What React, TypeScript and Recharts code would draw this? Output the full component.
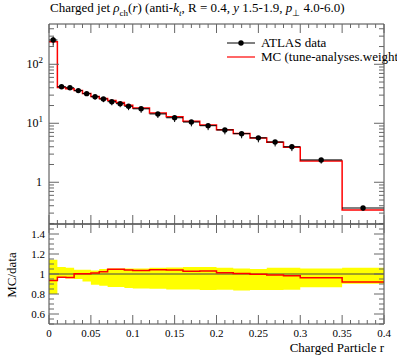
import React from 'react';
import { ComposedChart, Line, Scatter, ErrorBar, XAxis, YAxis, Area, ReferenceLine } from 'recharts';

// bin edges in r
const binEdges = [0, 0.01, 0.02, 0.03, 0.04, 0.05, 0.06, 0.07, 0.08, 0.09, 0.1, 0.12, 0.14, 0.16, 0.18, 0.2, 0.22, 0.24, 0.26, 0.28, 0.3, 0.35, 0.4];

// ATLAS data
const dataValues = [258, 41.7, 40, 35.8, 31.8, 28.2, 25.8, 23.2, 21.5, 19.4, 17.6, 14.4, 12.4, 10.5, 9.1, 7.7, 6.66, 5.66, 4.82, 4.0, 2.39, 0.366];
// relative uncertainties (up / down)
const dataErrUp = [0.143, 0.07, 0.063, 0.043, 0.043, 0.036, 0.05, 0.056, 0.056, 0.056, 0.056, 0.063, 0.065, 0.07, 0.07, 0.063, 0.056, 0.05, 0.063, 0.063, 0.056, 0.063];
const dataErrDown = [0.2, 0.04, 0.045, 0.05, 0.074, 0.107, 0.117, 0.13, 0.13, 0.14, 0.145, 0.147, 0.154, 0.156, 0.16, 0.157, 0.164, 0.16, 0.16, 0.157, 0.133, 0.097];

// MC prediction
const mcValues = [241, 40.3, 38.6, 35.9, 31.9, 28.5, 26.4, 24.3, 22.5, 20.2, 18.2, 15.0, 12.9, 10.8, 9.37, 7.8, 6.7, 5.64, 4.77, 3.93, 2.3, 0.337];

const xMajorLabels = ['0', '0.05', '0.1', '0.15', '0.2', '0.25', '0.3', '0.35', '0.4'];

const FRAME = '#444';
const TICK = '#666';
const RED = '#ff0000';
const FONT = '"Liberation Serif", serif';

const xTicks: number[] = [];
for (let i = 0; i <= 40; i++) xTicks.push(i / 100);

const logTicks: number[] = [];
[0.1, 1, 10, 100].forEach((d) => {
  for (let k = 1; k <= 9; k++) {
    const v = +(d * k).toPrecision(3);
    if (v >= 0.2 && v <= 480) logTicks.push(v);
  }
});

const ratioTicks: number[] = [];
for (let i = 10; i <= 30; i++) ratioTicks.push(i / 20);

const isMajorX = (v: number) => Math.abs(v * 20 - Math.round(v * 20)) < 1e-6;
const isMajorLog = (v: number) => Math.abs(Math.log10(v) - Math.round(Math.log10(v))) < 1e-6;
const isMajorRatio = (v: number) => Math.abs(v * 5 - Math.round(v * 5)) < 1e-6 && v > 0.55 && v < 1.45;

const n = dataValues.length;

const dataPoints = dataValues.map((v, i) => ({
  x: (binEdges[i] + binEdges[i + 1]) / 2,
  y: v,
  yErr: [v * dataErrDown[i], v * dataErrUp[i]],
  xErr: (binEdges[i + 1] - binEdges[i]) / 2,
}));

const mcSteps = binEdges.map((e, i) => ({ x: e, mc: mcValues[Math.min(i, n - 1)] }));

const ratioSteps = binEdges.map((e, i) => {
  const j = Math.min(i, n - 1);
  return {
    x: e,
    ratio: mcValues[j] / dataValues[j],
    band: [1 - dataErrDown[j], 1 + dataErrUp[j]],
  };
});

const xTick = (side: 'top' | 'bottom', labels: boolean) => (props: any) => {
  const { x, y, payload } = props;
  const v = payload.value;
  const major = isMajorX(v);
  const len = major ? 9 : 4;
  const dir = side === 'top' ? 1 : -1;
  const idx = Math.round(v * 20);
  return (
    <g>
      <line x1={x} x2={x} y1={y} y2={y + dir * len} stroke={TICK} strokeWidth={1} />
      {labels && major && (
        <text x={x} y={y + 13} textAnchor="middle" fontSize={11} fontFamily={FONT} fill="#000">
          {xMajorLabels[idx]}
        </text>
      )}
    </g>
  );
};

const yTick = (side: 'left' | 'right', kind: 'log' | 'ratio') => (props: any) => {
  const { x, y, payload } = props;
  const v = payload.value;
  const major = kind === 'log' ? isMajorLog(v) : isMajorRatio(v);
  const len = major ? 10 : 5;
  const dir = side === 'left' ? 1 : -1;
  let label: React.ReactNode = null;
  if (side === 'left' && major) {
    if (kind === 'log') {
      const p = Math.round(Math.log10(v));
      label =
        p === 0 ? (
          <text x={x - 7} y={y + 4} textAnchor="end" fontSize={12} fontFamily={FONT} fill="#000">1</text>
        ) : (
          <text x={x - 6} y={y + 4} textAnchor="end" fontSize={12} fontFamily={FONT} fill="#000">
            10<tspan dy={-5} fontSize={9}>{p}</tspan>
          </text>
        );
    } else {
      const s = Math.abs(v - 1) < 1e-6 ? '1' : v.toFixed(1);
      label = (
        <text x={x - 4} y={y + 4} textAnchor="end" fontSize={11} fontFamily={FONT} fill="#000">{s}</text>
      );
    }
  }
  return (
    <g>
      <line x1={x} x2={x + dir * len} y1={y} y2={y} stroke={TICK} strokeWidth={1} />
      {label}
    </g>
  );
};

const DataDot = (props: any) => <circle cx={props.cx} cy={props.cy} r={2.7} fill="#000" />;

const axisLine = { stroke: FRAME, strokeWidth: 1 };

const App = () => {
  return (
    <div style={{ position: 'absolute', left: 0, top: 0, width: 397, height: 358, background: '#fff', fontFamily: FONT }}>
      <div style={{ position: 'absolute', left: 50, top: 0, fontSize: 13, whiteSpace: 'nowrap', color: '#000' }}>
        Charged jet <i>ρ</i><sub style={{ fontSize: 9 }}>ch</sub>(<i>r</i>) (anti-<i>k</i><sub style={{ fontSize: 9 }}><i>t</i></sub>, R = 0.4, <i>y</i> 1.5-1.9, <i>p</i><sub style={{ fontSize: 9 }}>⊥</sub> 4.0-6.0)
      </div>

      <div style={{ position: 'absolute', left: 0, top: 0 }}>
        <ComposedChart width={397} height={225} margin={{ top: 23, right: 12, bottom: 0, left: 48 }}>
          <XAxis xAxisId="b" dataKey="x" type="number" domain={[0, 0.4]} ticks={xTicks} interval={0}
            orientation="bottom" height={1} tickSize={0} tickMargin={0} tick={xTick('bottom', false)} axisLine={axisLine} allowDataOverflow />
          <XAxis xAxisId="t" dataKey="x" type="number" domain={[0, 0.4]} ticks={xTicks} interval={0}
            orientation="top" height={1} tickSize={0} tickMargin={0} tick={xTick('top', false)} axisLine={axisLine} allowDataOverflow />
          <YAxis yAxisId="l" type="number" scale="log" domain={[0.196, 482]} ticks={logTicks} interval={0}
            orientation="left" width={1} tickSize={0} tickMargin={0} tick={yTick('left', 'log')} axisLine={axisLine} allowDataOverflow />
          <YAxis yAxisId="r" type="number" scale="log" domain={[0.196, 482]} ticks={logTicks} interval={0}
            orientation="right" width={1} tickSize={0} tickMargin={0} tick={yTick('right', 'log')} axisLine={axisLine} allowDataOverflow />
          <Line xAxisId="b" yAxisId="l" data={mcSteps} dataKey="mc" type="stepAfter" stroke={RED} strokeWidth={1.5}
            dot={false} isAnimationActive={false} />
          <Scatter xAxisId="b" yAxisId="l" data={dataPoints} dataKey="y" shape={DataDot} isAnimationActive={false}>
            <ErrorBar dataKey="yErr" direction="y" width={0} stroke="#000" strokeWidth={1} />
            <ErrorBar dataKey="xErr" direction="x" width={0} stroke="#000" strokeWidth={1} />
          </Scatter>
        </ComposedChart>
      </div>

      <div style={{ position: 'absolute', left: 0, top: 223 }}>
        <ComposedChart width={397} height={135} margin={{ top: 0, right: 12, bottom: 33, left: 48 }}>
          <XAxis xAxisId="b" dataKey="x" type="number" domain={[0, 0.4]} ticks={xTicks} interval={0}
            orientation="bottom" height={1} tickSize={0} tickMargin={0} tick={xTick('bottom', true)} axisLine={axisLine} allowDataOverflow />
          <XAxis xAxisId="t" dataKey="x" type="number" domain={[0, 0.4]} ticks={xTicks} interval={0}
            orientation="top" height={1} tickSize={0} tickMargin={0} tick={xTick('top', false)} axisLine={axisLine} allowDataOverflow />
          <YAxis yAxisId="l" type="number" domain={[0.5, 1.5]} ticks={ratioTicks} interval={0}
            orientation="left" width={1} tickSize={0} tickMargin={0} tick={yTick('left', 'ratio')} axisLine={axisLine} allowDataOverflow />
          <YAxis yAxisId="r" type="number" domain={[0.5, 1.5]} ticks={ratioTicks} interval={0}
            orientation="right" width={1} tickSize={0} tickMargin={0} tick={yTick('right', 'ratio')} axisLine={axisLine} allowDataOverflow />
          <Area xAxisId="b" yAxisId="l" data={ratioSteps} dataKey="band" type="stepAfter" fill="#ffff00" fillOpacity={1}
            stroke="none" isAnimationActive={false} />
          <ReferenceLine xAxisId="b" yAxisId="l" y={1} stroke={FRAME} strokeWidth={1} />
          <Line xAxisId="b" yAxisId="l" data={ratioSteps} dataKey="ratio" type="stepAfter" stroke={RED} strokeWidth={1.5}
            dot={false} isAnimationActive={false} />
        </ComposedChart>
      </div>

      <div style={{ position: 'absolute', left: 2, top: 275, transform: 'translate(0, -50%) rotate(-90deg)', transformOrigin: 'center', fontSize: 13, whiteSpace: 'nowrap', width: 20, display: 'flex', justifyContent: 'center' }}>
        <span>MC/data</span>
      </div>
      <div style={{ position: 'absolute', right: 13, top: 341, fontSize: 13, lineHeight: '13px', whiteSpace: 'nowrap' }}>
        Charged Particle r
      </div>

      <div style={{ position: 'absolute', left: 226, top: 36, fontSize: 13, lineHeight: '14px', whiteSpace: 'nowrap' }}>
        <div style={{ display: 'flex', alignItems: 'center' }}>
          <svg width={30} height={14}>
            <line x1={1} x2={29} y1={7} y2={7} stroke="#000" strokeWidth={1} />
            <circle cx={15} cy={7} r={2.7} fill="#000" />
          </svg>
          <span style={{ marginLeft: 5 }}>ATLAS data</span>
        </div>
        <div style={{ display: 'flex', alignItems: 'center' }}>
          <svg width={30} height={14}>
            <line x1={1} x2={29} y1={7} y2={7} stroke={RED} strokeWidth={1.2} />
          </svg>
          <span style={{ marginLeft: 5 }}>MC (tune-analyses.weight</span>
        </div>
      </div>
    </div>
  );
};

export default App;
